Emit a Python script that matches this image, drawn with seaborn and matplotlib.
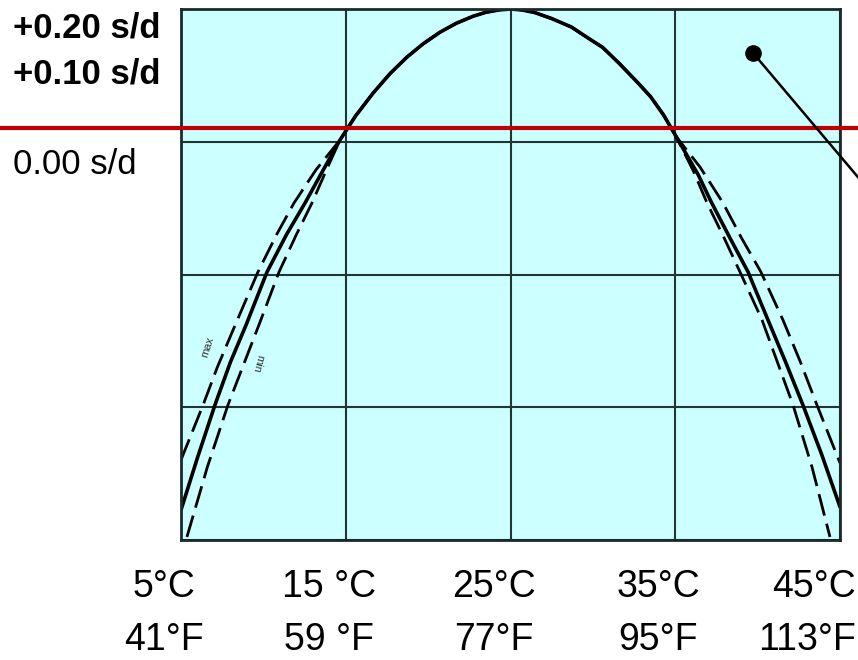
import numpy as np
import pandas as pd
import matplotlib
matplotlib.use('Agg')
import matplotlib.pyplot as plt
import matplotlib.transforms as mtransforms
import seaborn as sns

# rate curve of a quartz movement vs temperature
# y is measured in grid divisions below the turnover point (top edge = 0)

# upper arc, the three curves lie on top of each other here
top_temp = [14.65, 15.6, 16.65, 17.7, 18.72, 19.7, 20.72, 21.7, 22.72, 23.5, 24.3, 25.0,
            25.7, 26.5, 27.5, 28.7, 29.6, 30.6, 31.6, 32.74, 33.5, 34.3, 35.05]
top_rate = [-0.987, -0.805, -0.635, -0.485, -0.362, -0.262, -0.175, -0.108, -0.055, -0.025, -0.007, 0.0,
            -0.007, -0.028, -0.072, -0.136, -0.21, -0.29, -0.41, -0.557, -0.66, -0.80, -0.96]

# lower branches (cold side)
max_cold_temp = [5.0, 6.34, 7.2, 8.16, 9.67, 10.8, 11.86, 13.2]
max_cold_rate = [-3.397, -2.983, -2.70, -2.418, -1.981, -1.70, -1.461, -1.21]
nom_cold_temp = [5.0, 6.0, 7.06, 8.0, 8.95, 10.22, 11.4, 12.53, 13.6]
nom_cold_rate = [-3.774, -3.38, -2.983, -2.66, -2.380, -1.981, -1.70, -1.461, -1.22]
min_cold_temp = [5.36, 6.6, 7.85, 9.73, 10.95, 12.0, 12.95, 13.8]
min_cold_rate = [-3.977, -3.45, -2.983, -2.380, -1.981, -1.70, -1.461, -1.22]

# lower branches (warm side)
max_warm_temp = [36.5, 37.90, 39.0, 40.20, 41.54, 42.6, 43.60, 45.0]
max_warm_rate = [-1.19, -1.461, -1.72, -1.981, -2.343, -2.66, -2.983, -3.420]
nom_warm_temp = [36.4, 37.17, 38.3, 39.42, 40.63, 41.7, 42.75, 43.9, 45.0]
nom_warm_rate = [-1.25, -1.45, -1.72, -1.981, -2.343, -2.66, -2.983, -3.36, -3.751]
min_warm_temp = [36.1, 36.93, 37.95, 38.93, 40.27, 41.2, 42.15, 43.3, 44.39]
min_warm_rate = [-1.22, -1.461, -1.72, -1.981, -2.343, -2.66, -2.983, -3.45, -3.977]

temp_ticks = [5, 15, 25, 35, 45]
rate_grid = [0, -1, -2, -3, -4]
celsius_labels = ['5°C', '15 °C', '25°C', '35°C', '45°C']
fahrenheit_labels = ['41°F', '59 °F', '77°F', '95°F', '113°F']
rate_labels = ['+0.20 s/d', '+0.10 s/d', '0.00 s/d']

zero_rate = -0.896           # red 0.00 s/d line
dot_temp, dot_rate = 39.72, -0.331
pointer_temp, pointer_rate = 48.6, -1.635


def build(name, ct, cr, wt, wr):
    return pd.DataFrame({'temp': ct + top_temp + wt,
                         'rate': cr + top_rate + wr,
                         'curve': name})


dashed = pd.concat([build('max', max_cold_temp, max_cold_rate, max_warm_temp, max_warm_rate),
                    build('min', min_cold_temp, min_cold_rate, min_warm_temp, min_warm_rate)])
solid = build('nominal', nom_cold_temp, nom_cold_rate, nom_warm_temp, nom_warm_rate)

sns.set_style('white')
plt.rcParams['font.family'] = ['Liberation Sans', 'DejaVu Sans']
plt.rcParams['text.color'] = 'black'

fig = plt.figure(figsize=(8.58, 6.60), dpi=100)
ax = fig.add_axes([181 / 858, 120 / 660, 659 / 858, 531 / 660])
ax.set_facecolor('#CCFFFF')

sns.lineplot(data=dashed, x='temp', y='rate', style='curve',
             dashes={'max': (8, 3), 'min': (8, 3)}, color='black',
             linewidth=2, estimator=None, legend=False, ax=ax)
sns.lineplot(data=solid, x='temp', y='rate', color='black',
             linewidth=2.6, estimator=None, legend=False, ax=ax)

ax.set_xlim(5, 45)
ax.set_ylim(-4, 0)
ax.set_xticks(temp_ticks)
ax.set_yticks(rate_grid)
ax.set_xticklabels([])
ax.set_yticklabels([])
ax.tick_params(length=0)
ax.set_xlabel('')
ax.set_ylabel('')
ax.grid(True, color='#243434', linewidth=1.5)
for s in ax.spines.values():
    s.set_visible(True)
    s.set_color('#1a2a2a')
    s.set_linewidth(2)

# small curve names
ax.text(6.6, -2.55, 'max', fontsize=8, rotation=72, color='#333333', ha='center', va='center')
ax.text(9.65, -2.67, 'min', fontsize=8, rotation=-105, color='#333333', ha='center', va='center')

# red zero line running over the whole width
ax.axhline(zero_rate, xmin=-0.28, xmax=1.04, color='#C00000', linewidth=3, clip_on=False, zorder=6)

# pointer
ax.plot([dot_temp, pointer_temp], [dot_rate, pointer_rate], color='black', linewidth=1.8,
        clip_on=False, zorder=7)
ax.plot([dot_temp], [dot_rate], 'o', color='black', markersize=11, clip_on=False, zorder=8)

# rate labels on the left
fig.text(13 / 858, 1 - 38 / 660, rate_labels[0], fontsize=25, fontweight='bold', va='baseline')
fig.text(13 / 858, 1 - 83 / 660, rate_labels[1], fontsize=25, fontweight='bold', va='baseline')
fig.text(13 / 858, 1 - 174 / 660, rate_labels[2], fontsize=25, va='baseline')

# temperature labels, two rows
trans = mtransforms.blended_transform_factory(ax.transData, ax.transAxes)
for i, t in enumerate(temp_ticks):
    last = i == len(temp_ticks) - 1
    dx = 16 if last else -17
    off = mtransforms.ScaledTranslation(dx / 100, 0, fig.dpi_scale_trans)
    ha = 'right' if last else 'center'
    ax.text(t, -(597 - 540) / 531, celsius_labels[i], transform=trans + off, ha=ha,
            va='baseline', fontsize=27)
    ax.text(t, -(650 - 540) / 531, fahrenheit_labels[i], transform=trans + off, ha=ha,
            va='baseline', fontsize=27)

fig.savefig('out.png', dpi=100)
